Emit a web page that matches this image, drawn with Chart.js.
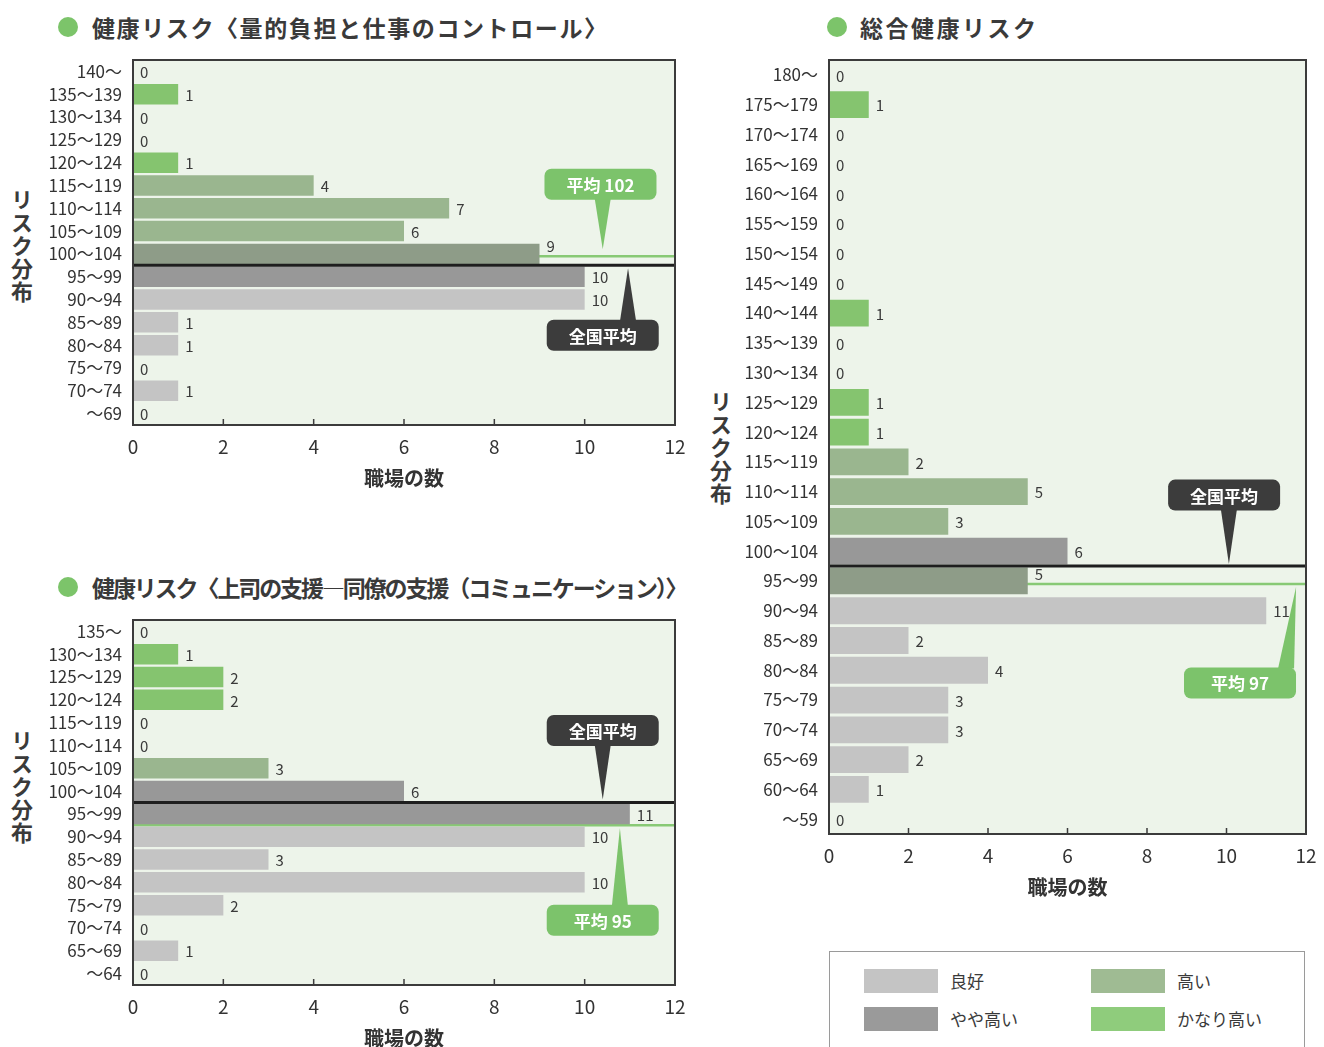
<!DOCTYPE html>
<html lang="ja">
<head>
<meta charset="utf-8">
<script src="https://cdn.jsdelivr.net/npm/chart.js@4.4.1/dist/chart.umd.min.js"></script>
<style>
  html, body { margin: 0; padding: 0; background: #fff; width: 1324px; height: 1047px; overflow: hidden;
    font-family: "Noto Sans CJK JP", "Noto Sans", sans-serif; color: #333; }
  canvas { position: absolute; }
  .dot { position: absolute; width: 20px; height: 20px; border-radius: 50%; background: #7cc46a; }
  .title { position: absolute; font-weight: bold; font-size: 23px; line-height: 34px; white-space: nowrap; color: #3a3a3a; }
  .vtitle { position: absolute; writing-mode: vertical-rl; text-orientation: upright; font-weight: bold;
    font-size: 22px; line-height: 24px; letter-spacing: 1px; color: #3a3a3a; }
  .legend { position: absolute; left: 829px; top: 951px; width: 476px; height: 120px; border: 1.5px solid #9a9a9a; box-sizing: border-box; }
  .sw { position: absolute; width: 74px; height: 24px; }
  .lg { position: absolute; font-size: 17px; line-height: 24px; color: #3a3a3a; }
</style>
</head>
<body>
<div class="dot" style="left:58px;top:17px"></div>
<div class="title" style="left:92px;top:10px;letter-spacing:1.6px">健康リスク〈量的負担と仕事のコントロール〉</div>
<div class="dot" style="left:58px;top:577px"></div>
<div class="title" style="left:92px;top:570px;letter-spacing:-2.1px">健康リスク〈上司の支援―同僚の支援（コミュニケーション）〉</div>
<div class="dot" style="left:827px;top:17px"></div>
<div class="title" style="left:860px;top:10px;letter-spacing:2.5px">総合健康リスク</div>

<div class="vtitle" style="left:10px;top:189px">リスク分布</div>
<div class="vtitle" style="left:10px;top:730px">リスク分布</div>
<div class="vtitle" style="left:709px;top:391px">リスク分布</div>

<canvas id="qty" width="700" height="460" style="left:0;top:50px"></canvas>
<canvas id="sup" width="700" height="460" style="left:0;top:610px"></canvas>
<canvas id="tot" width="624" height="869" style="left:700px;top:50px"></canvas>

<div class="legend" id="legend"></div>

<script>
// Risk levels shared by all three charts
const levelNames  = ['良好', 'やや高い', '高い', 'かなり高い'];
const levelColors = ['#c4c4c4', '#989898', '#9ab68f', '#85c46f'];
const legendColors = ['#c4c4c4', '#9a9a9a', '#9fbb93', '#8fcc7c'];
const meanBandColor = '#8e9c88';   // band that holds the company mean

const nationalMean = 100;

// 健康リスク〈量的負担と仕事のコントロール〉
const qtyBands  = ['140〜','135〜139','130〜134','125〜129','120〜124','115〜119','110〜114','105〜109','100〜104','95〜99','90〜94','85〜89','80〜84','75〜79','70〜74','〜69'];
const qtyCounts = [0, 1, 0, 0, 1, 4, 7, 6, 9, 10, 10, 1, 1, 0, 1, 0];
const qtyLevels = [3, 3, 3, 3, 3, 2, 2, 2, 1, 1, 0, 0, 0, 0, 0, 0];
const qtyMean = 102;

// 健康リスク〈上司の支援―同僚の支援（コミュニケーション）〉
const supBands  = ['135〜','130〜134','125〜129','120〜124','115〜119','110〜114','105〜109','100〜104','95〜99','90〜94','85〜89','80〜84','75〜79','70〜74','65〜69','〜64'];
const supCounts = [0, 1, 2, 2, 0, 0, 3, 6, 11, 10, 3, 10, 2, 0, 1, 0];
const supLevels = [3, 3, 3, 3, 2, 2, 2, 1, 1, 0, 0, 0, 0, 0, 0, 0];
const supMean = 95;

// 総合健康リスク
const totBands  = ['180〜','175〜179','170〜174','165〜169','160〜164','155〜159','150〜154','145〜149','140〜144','135〜139','130〜134','125〜129','120〜124','115〜119','110〜114','105〜109','100〜104','95〜99','90〜94','85〜89','80〜84','75〜79','70〜74','65〜69','60〜64','〜59'];
const totCounts = [0, 1, 0, 0, 0, 0, 0, 0, 1, 0, 0, 1, 1, 2, 5, 3, 6, 5, 11, 2, 4, 3, 3, 2, 1, 0];
const totLevels = [3, 3, 3, 3, 3, 3, 3, 3, 3, 3, 3, 3, 3, 2, 2, 2, 1, 1, 0, 0, 0, 0, 0, 0, 0, 0];
const totMean = 97;

const countMin = 0, countMax = 12, countStep = 2;

const FONT = '"Noto Sans CJK JP", "Noto Sans", sans-serif';
const MEAN_GREEN = '#7cc36b';
const NATIONAL_DARK = '#3c3c3c';

// lower bound of each score band, e.g. "105〜109" -> 105, "〜69" -> 65
function bandLows(bands) {
  const lows = [];
  bands.forEach((b, i) => {
    const m = b.match(/^(\d+)〜/);
    lows.push(m ? +m[1] : lows[i - 1] - 5);
  });
  return lows;
}

function bandIndex(bands, score) {
  const i = bandLows(bands).findIndex(lo => score >= lo);
  return i < 0 ? bands.length - 1 : i;
}

// vertical pixel for a score inside the banded category axis
function scoreToY(chart, score) {
  const y = chart.scales.y;
  const lows = bandLows(chart.data.labels);
  const i = bandIndex(chart.data.labels, score);
  const step = Math.abs(y.getPixelForValue(1) - y.getPixelForValue(0));
  return y.getPixelForValue(i) + step / 2 - (score - lows[i]) / 5 * step;
}

function drawNote(ctx, chart, note, lineY, fill) {
  const xs = chart.scales.x;
  const w = 112, h = 31;
  const cx = xs.getPixelForValue(note.x);
  const cy = lineY + note.dy;
  const tipX = xs.getPixelForValue(note.tipX);
  const tipY = lineY + note.tipDy;
  const edgeY = note.dy < 0 ? cy + h / 2 - 1 : cy - h / 2 + 1;
  const bx = tipX + (note.baseDx || 0);
  ctx.fillStyle = fill;
  ctx.beginPath();
  ctx.moveTo(bx - 8, edgeY);
  ctx.lineTo(bx + 8, edgeY);
  ctx.lineTo(tipX, tipY);
  ctx.closePath();
  ctx.fill();
  ctx.beginPath();
  ctx.roundRect(cx - w / 2, cy - h / 2, w, h, 7);
  ctx.fill();
  ctx.fillStyle = '#ffffff';
  ctx.font = 'bold 17px ' + FONT;
  ctx.textAlign = 'center';
  ctx.textBaseline = 'middle';
  ctx.fillText(note.text, cx, cy + 1);
}

const riskMarks = {
  id: 'riskMarks',
  beforeDatasetsDraw(chart, args, opts) {
    const { ctx, chartArea: a } = chart;
    ctx.save();
    ctx.fillStyle = '#edf4ea';
    ctx.fillRect(a.left, a.top, a.width, a.height);
    // company mean line, drawn beneath the bars
    const yMean = scoreToY(chart, opts.mean);
    ctx.strokeStyle = '#88c975';
    ctx.lineWidth = 2.5;
    ctx.beginPath();
    ctx.moveTo(a.left, yMean);
    ctx.lineTo(a.right, yMean);
    ctx.stroke();
    ctx.restore();
  },
  afterDatasetsDraw(chart, args, opts) {
    const { ctx, chartArea: a } = chart;
    const xs = chart.scales.x;
    ctx.save();
    // national average boundary
    const yNat = scoreToY(chart, opts.national);
    ctx.strokeStyle = '#1e1e1e';
    ctx.lineWidth = 3;
    ctx.beginPath();
    ctx.moveTo(a.left, yNat);
    ctx.lineTo(a.right, yNat);
    ctx.stroke();

    // frame
    ctx.strokeStyle = '#3b3b3b';
    ctx.lineWidth = 2;
    ctx.strokeRect(a.left, a.top, a.width, a.height);

    // inner tick marks on the count axis
    ctx.lineWidth = 1.5;
    for (let v = countMin + countStep; v < countMax; v += countStep) {
      const x = xs.getPixelForValue(v);
      ctx.beginPath();
      ctx.moveTo(x, a.bottom);
      ctx.lineTo(x, a.bottom - 6);
      ctx.stroke();
    }

    // value labels at bar ends, lifted clear of the mean line
    const yMean = scoreToY(chart, opts.mean);
    const meta = chart.getDatasetMeta(0);
    const values = chart.data.datasets[0].data;
    ctx.fillStyle = '#3a3a3a';
    ctx.font = '15px ' + FONT;
    ctx.textAlign = 'left';
    ctx.textBaseline = 'middle';
    meta.data.forEach((bar, i) => {
      const end = values[i] > 0 ? bar.x : a.left;
      let ly = bar.y + 1;
      if (Math.abs(ly - yMean) < 9) ly = yMean - 10;
      ctx.fillText(String(values[i]), end + 7, ly);
    });

    // callouts
    drawNote(ctx, chart, opts.meanNote, yMean, MEAN_GREEN);
    drawNote(ctx, chart, opts.nationalNote, yNat, NATIONAL_DARK);
    ctx.restore();
  }
};

function riskChart(id, bands, counts, levels, mean, yAxisWidth, padRight, marks) {
  const meanRow = bandIndex(bands, mean);
  const meanInside = mean > bandLows(bands)[meanRow];
  return new Chart(document.getElementById(id), {
    type: 'bar',
    data: {
      labels: bands,
      datasets: [{
        data: counts,
        backgroundColor: levels.map((l, i) => (meanInside && i === meanRow && l === 1) ? meanBandColor : levelColors[l]),
        borderWidth: 0,
        barPercentage: 0.9,
        categoryPercentage: 1.0
      }]
    },
    options: {
      indexAxis: 'y',
      responsive: false,
      animation: false,
      devicePixelRatio: 1,
      layout: { padding: { top: 10, right: padRight, left: 0, bottom: 0 } },
      plugins: {
        legend: { display: false },
        tooltip: { enabled: false },
        riskMarks: Object.assign({ mean: mean }, marks)
      },
      scales: {
        x: {
          min: countMin, max: countMax,
          grid: { display: false },
          border: { display: false },
          ticks: { stepSize: countStep, color: '#333', font: { family: FONT, size: 19 }, padding: 2, maxRotation: 0 },
          title: { display: true, text: '職場の数', color: '#333', font: { family: FONT, size: 20, weight: 'bold' }, padding: { top: 0, bottom: 20 } },
          afterFit(scale) { scale.height = 85; }
        },
        y: {
          grid: { display: false },
          border: { display: false },
          ticks: { color: '#333', font: { family: FONT, size: 17 }, padding: 3, autoSkip: false },
          afterFit(scale) { scale.width = yAxisWidth; scale.paddingTop = 0; scale.paddingBottom = 0; }
        }
      }
    },
    plugins: [riskMarks]
  });
}

riskChart('qty', qtyBands, qtyCounts, qtyLevels, qtyMean, 133, 25, {
  national: nationalMean,
  meanNote: { text: '平均 ' + qtyMean, x: 10.35, dy: -72, tipX: 10.4, tipDy: -7 },
  nationalNote: { text: '全国平均', x: 10.4, dy: 70, tipX: 10.96, tipDy: 3 }
});

riskChart('sup', supBands, supCounts, supLevels, supMean, 133, 25, {
  national: nationalMean,
  meanNote: { text: '平均 ' + supMean, x: 10.4, dy: 95, tipX: 10.78, tipDy: 3 },
  nationalNote: { text: '全国平均', x: 10.4, dy: -72, tipX: 10.4, tipDy: -3 }
});

riskChart('tot', totBands, totCounts, totLevels, totMean, 129, 18, {
  national: nationalMean,
  meanNote: { text: '平均 ' + totMean, x: 10.34, dy: 99, tipX: 11.75, tipDy: 3, baseDx: -10 },
  nationalNote: { text: '全国平均', x: 9.94, dy: -71, tipX: 10.06, tipDy: -2 }
});

// shared legend
const legendEl = document.getElementById('legend');
const legendSlots = [[0, 34, 17], [1, 34, 55], [2, 261, 17], [3, 261, 55]];
legendSlots.forEach(([lvl, x, y]) => {
  const sw = document.createElement('div');
  sw.className = 'sw';
  sw.style.left = x + 'px';
  sw.style.top = y + 'px';
  sw.style.background = legendColors[lvl];
  legendEl.appendChild(sw);
  const tx = document.createElement('div');
  tx.className = 'lg';
  tx.style.left = (x + 86) + 'px';
  tx.style.top = y + 'px';
  tx.textContent = levelNames[lvl];
  legendEl.appendChild(tx);
});
</script>
</body>
</html>
